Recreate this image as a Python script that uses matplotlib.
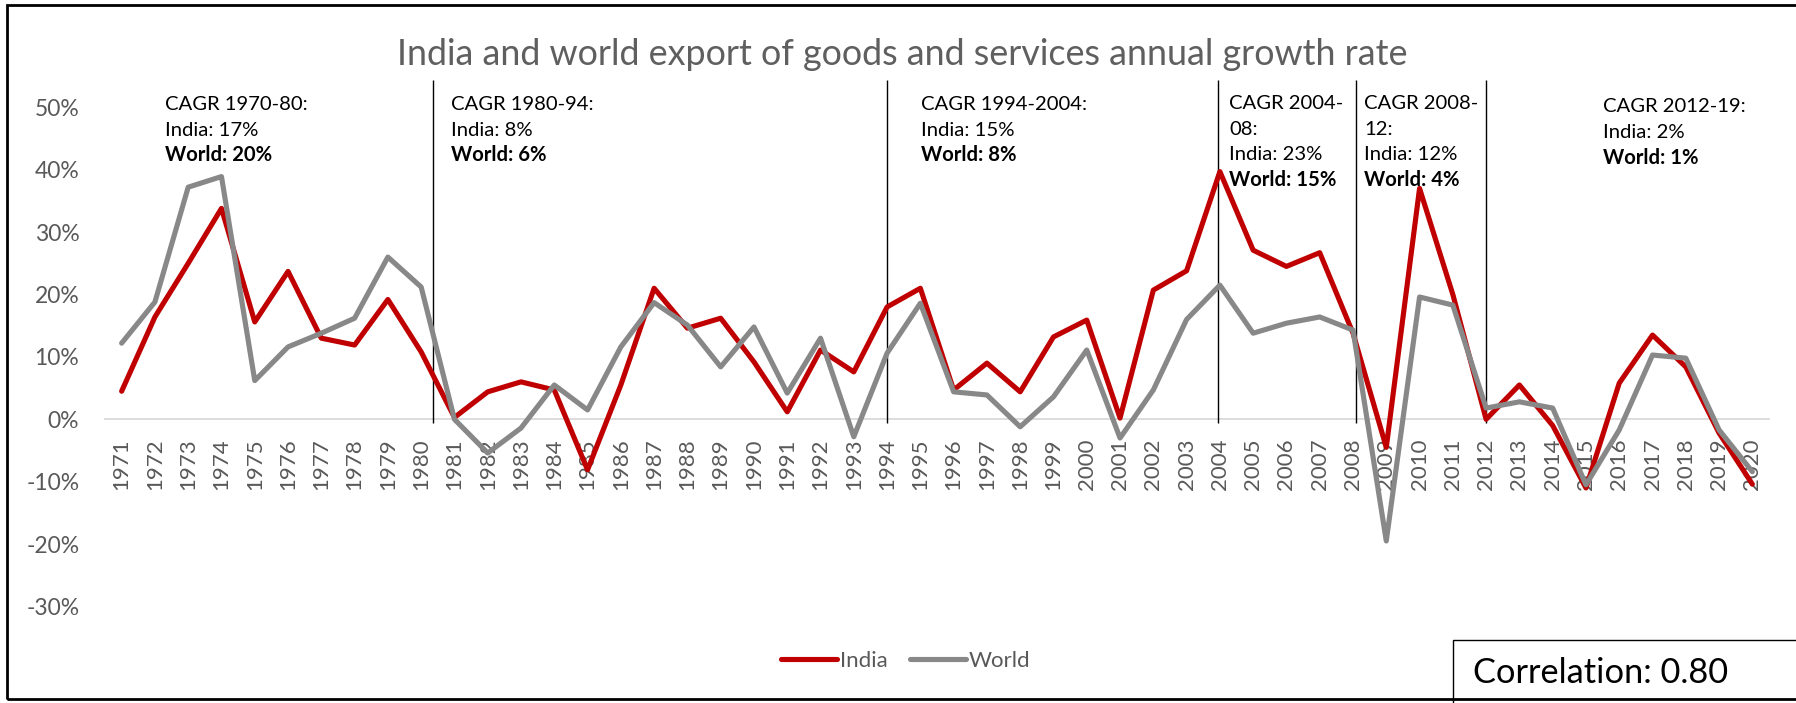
import matplotlib
matplotlib.use("Agg")
import matplotlib.pyplot as plt
from matplotlib.patches import Rectangle
from matplotlib.ticker import FuncFormatter

# Annual growth of exports of goods and services (%)
years = list(range(1971, 2021))
india = [4.5, 16.4, 25.0, 33.8, 15.6, 23.7, 13.0, 11.9, 19.2, 10.8,
         0.3, 4.4, 6.0, 4.7, -8.1, 5.5, 21.0, 14.6, 16.2, 9.2,
         1.2, 11.1, 7.6, 18.0, 21.0, 4.7, 9.0, 4.4, 13.2, 15.9,
         0.2, 20.7, 23.8, 39.7, 27.1, 24.5, 26.7, 13.8, -4.5, 37.0,
         20.0, 0.0, 5.5, -1.0, -11.0, 5.8, 13.5, 8.4, -2.2, -10.4]
world = [12.2, 18.8, 37.2, 38.9, 6.2, 11.6, 13.8, 16.2, 26.0, 21.2,
         0.0, -5.4, -1.4, 5.5, 1.5, 11.6, 18.7, 15.1, 8.4, 14.8,
         4.2, 13.0, -2.8, 10.6, 18.6, 4.4, 3.9, -1.2, 3.6, 11.1,
         -3.0, 4.7, 16.0, 21.5, 13.8, 15.4, 16.4, 14.3, -19.5, 19.6,
         18.3, 1.8, 2.8, 1.8, -10.5, -1.7, 10.3, 9.8, -1.7, -8.4]
y_ticks = [-30, -20, -10, 0, 10, 20, 30, 40, 50]

# Period boundaries (category position) and CAGR notes
period_marks = [9.35, 23.0, 32.95, 37.1, 41.0]
cagr_notes = [
    (["CAGR 1970-80:", "India: 17%", "World: 20%"], 165, 110),
    (["CAGR 1980-94:", "India: 8%", "World: 6%"], 451, 110),
    (["CAGR 1994-2004:", "India: 15%", "World: 8%"], 921, 110),
    (["CAGR 2004-", "08:", "India: 23%", "World: 15%"], 1229, 109),
    (["CAGR 2008-", "12:", "India: 12%", "World: 4%"], 1364, 109),
    (["CAGR 2012-19:", "India: 2%", "World: 1%"], 1603, 112.5),
]

title = "India and world export of goods and services annual growth rate"
correlation = "Correlation: 0.80"

W, H = 1796, 703
plt.rcParams["font.family"] = ["Lato", "DejaVu Sans"]
fig = plt.figure(figsize=(W / 100, H / 100), dpi=100)


def fx(px):
    return px / W


def fy(py):
    return 1 - py / H


top_px, bot_px = 107.3, 606.5
ax = fig.add_axes([fx(105), fy(bot_px), (1769 - 105) / W, (bot_px - top_px) / H])
xs = list(range(len(years)))
ax.plot(xs, india, color="#C00000", lw=3.7, solid_joinstyle="round",
        solid_capstyle="round", label="India", clip_on=False, zorder=3)
ax.plot(xs, world, color="#888888", lw=3.7, solid_joinstyle="round",
        solid_capstyle="round", label="World", clip_on=False, zorder=4)

ax.set_xlim(-0.5, len(years) - 0.5)
ax.set_ylim(-30, 50)
ax.set_xticks(xs)
ax.set_xticklabels([str(y) for y in years])
ax.set_yticks(y_ticks)
ax.yaxis.set_major_formatter(FuncFormatter(lambda v, p: f"{v:.0f}%"))

for s in ("top", "right", "left"):
    ax.spines[s].set_visible(False)
ax.spines["bottom"].set_position(("data", 0))
ax.spines["bottom"].set_color("#D9D9D9")
ax.spines["bottom"].set_linewidth(1.3)
ax.spines["bottom"].set_zorder(1)
ax.tick_params(axis="x", length=0, pad=14, labelrotation=90,
               labelsize=16, labelcolor="#595959")
ax.tick_params(axis="y", length=0, pad=18.5, labelsize=16.5, labelcolor="#595959")
ax.patch.set_alpha(0)

ax.vlines(period_marks, -0.6, 54.4, colors="#000000", lw=1.0,
          clip_on=False, zorder=2)

# CAGR notes, last line of each block in bold
line_step = 25.7
for lines, x0, y0 in cagr_notes:
    for i, txt in enumerate(lines):
        bold = txt.startswith("World")
        fig.text(fx(x0), fy(y0 + i * line_step), txt, ha="left", va="baseline",
                 fontsize=14.6, color="#000000",
                 fontweight="bold" if bold else "normal")

t = fig.text(fx(902.5), fy(65), title, ha="center", va="baseline",
             fontsize=27, color="#5F5F5F", fontweight="normal")
c = fig.text(fx(1473), fy(683), correlation, ha="left", va="baseline",
             fontsize=22, color="#000000")

fig.canvas.draw()
r = fig.canvas.get_renderer()
t.set_fontsize(27 * 1015 / t.get_window_extent(r).width)
c.set_fontsize(22 * 255 / c.get_window_extent(r).width)

leg = fig.legend(loc="center", bbox_to_anchor=(fx(906), fy(660.7)),
                 bbox_transform=fig.transFigure, ncol=2, frameon=False,
                 fontsize=16, handlelength=2.5, handletextpad=0.15,
                 columnspacing=1.0, labelcolor="#595959")

# Outer frame and correlation box
fig.add_artist(Rectangle((fx(7), fy(699)), 1.0, fy(5) - fy(699),
                         transform=fig.transFigure, fill=False, lw=2.0,
                         ec="#000000", clip_on=False))
fig.add_artist(Rectangle((fx(1453), fy(712)), 1.0, fy(640) - fy(712),
                         transform=fig.transFigure, fill=False, lw=1.0,
                         ec="#000000", clip_on=False))

fig.savefig("out.png", dpi=100, facecolor="white")
